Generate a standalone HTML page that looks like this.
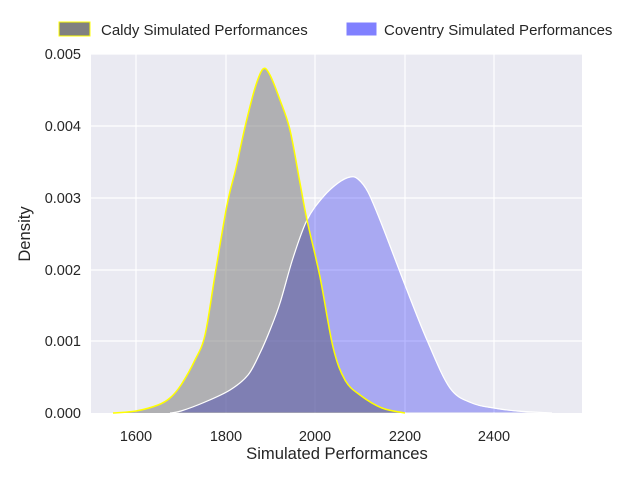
<!DOCTYPE html>
<html><head><style>
body{margin:0;background:#fff;}
svg text{font-family:"Liberation Sans","DejaVu Sans",sans-serif;fill:#262626;}
</style></head><body>
<svg width="640" height="480" xmlns="http://www.w3.org/2000/svg">
<rect x="91" y="54" width="491" height="359" fill="#eaeaf2"/>
<g stroke="#fff" stroke-width="1.2">
<line x1="136" y1="54" x2="136" y2="413"/><line x1="226" y1="54" x2="226" y2="413"/>
<line x1="315" y1="54" x2="315" y2="413"/><line x1="405" y1="54" x2="405" y2="413"/>
<line x1="494" y1="54" x2="494" y2="413"/>
<line x1="91" y1="54" x2="582" y2="54"/><line x1="91" y1="126" x2="582" y2="126"/>
<line x1="91" y1="198" x2="582" y2="198"/><line x1="91" y1="270" x2="582" y2="270"/>
<line x1="91" y1="341" x2="582" y2="341"/>
</g>
<path id="cal" fill="#808080" fill-opacity="0.55" stroke="none"/>
<path id="cov" fill="#8080ff" fill-opacity="0.56" stroke="#fff" stroke-width="1.2" style="mix-blend-mode:multiply"/>
<path id="cov2" fill="none" stroke="#fff" stroke-width="1.2"/>
<path id="cal2" fill="none" stroke="#ffff00" stroke-width="1.5"/>
<g font-size="14.5" text-anchor="middle">
<text x="136" y="441">1600</text><text x="226" y="441">1800</text><text x="315" y="441">2000</text>
<text x="405" y="441">2200</text><text x="494" y="441">2400</text>
<text x="337" y="459" font-size="16.6">Simulated Performances</text>
</g>
<g font-size="14.5" text-anchor="end">
<text x="81" y="59">0.005</text><text x="81" y="131">0.004</text><text x="81" y="203">0.003</text>
<text x="81" y="275">0.002</text><text x="81" y="346">0.001</text><text x="81" y="418">0.000</text>
</g>
<text transform="translate(30,234) rotate(-90)" font-size="16.6" text-anchor="middle">Density</text>
<rect x="59" y="22" width="31" height="14" fill="#808080" stroke="#ffff00" stroke-width="1"/>
<text x="101" y="35" font-size="15">Caldy Simulated Performances</text>
<rect x="346" y="22" width="31" height="14" fill="#8080ff" stroke="#fff"/>
<text x="384" y="35" font-size="15">Coventry Simulated Performances</text>
</svg>
<script>
function cr(p,close){let d="M"+p[0][0]+","+p[0][1];
for(let i=0;i<p.length-1;i++){const a=p[Math.max(0,i-1)],b=p[i],c=p[i+1],e=p[Math.min(p.length-1,i+2)];
d+=" C"+(b[0]+(c[0]-a[0])/6)+","+(b[1]+(c[1]-a[1])/6)+" "+(c[0]-(e[0]-b[0])/6)+","+(c[1]-(e[1]-b[1])/6)+" "+c[0]+","+c[1];}
return d+(close?" Z":"");}
var ca=[[113,413],[136,411],[158,405],[170,398],[181,385],[195,360],[205,335],[215,275],[227,205],[236,168],[245,127],[255,88],[263,69],[270,75],[280,100],[290,130],[300,183],[307,220],[320,277],[333,347],[345,380],[360,395],[382,408],[405,413]];
var co=[[170,413],[181,411],[205,402],[230,390],[248,375],[260,353],[270,330],[280,303],[293,258],[307,220],[323,197],[338,183],[350,177],[358,179],[368,192],[382,225],[405,285],[427,340],[450,388],[472,403],[494,408],[517,411],[552,413]];
document.getElementById("cal").setAttribute("d",cr(ca,1));
document.getElementById("cal2").setAttribute("d",cr(ca,0));
document.getElementById("cov").setAttribute("d",cr(co,1));
document.getElementById("cov2").setAttribute("d",cr(co,0));
</script>
</body></html>
